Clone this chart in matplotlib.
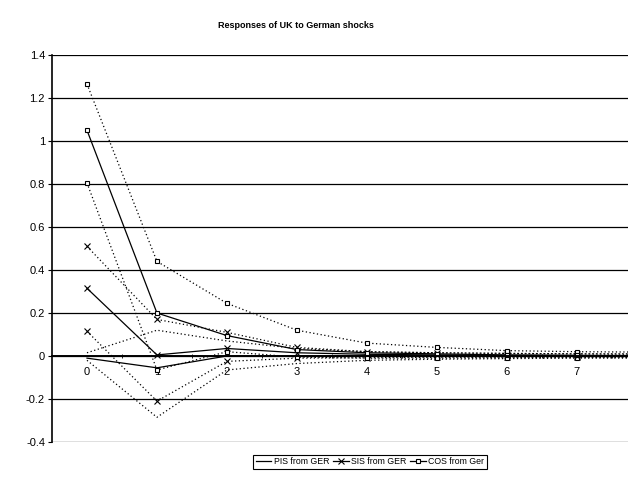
import numpy as np
import matplotlib.pyplot as plt
from matplotlib.ticker import FuncFormatter, MultipleLocator

plt.rcParams['font.family'] = ['Liberation Sans', 'DejaVu Sans']

periods = [0, 1, 2, 3, 4, 5, 6, 7, 8]

# impulse responses with upper / lower bands
pis = [-0.01, -0.055, 0.0, 0.0, 0.0, 0.0, 0.0, -0.002, -0.002]
pis_up = [0.015, 0.12, 0.07, 0.035, 0.02, 0.015, 0.012, 0.01, 0.01]
pis_lo = [-0.02, -0.285, -0.065, -0.035, -0.02, -0.015, -0.012, -0.01, -0.01]

sis = [0.315, 0.005, 0.035, 0.015, 0.008, 0.005, 0.003, 0.002, 0.001]
sis_up = [0.51, 0.17, 0.11, 0.04, 0.02, 0.015, 0.012, 0.01, 0.008]
sis_lo = [0.115, -0.21, -0.025, -0.01, -0.008, -0.006, -0.005, -0.004, -0.004]

cos = [1.05, 0.2, 0.095, 0.03, 0.015, 0.01, 0.005, 0.003, 0.002]
cos_up = [1.265, 0.44, 0.245, 0.12, 0.06, 0.04, 0.025, 0.02, 0.018]
cos_lo = [0.805, -0.065, 0.02, -0.005, -0.01, -0.01, -0.008, -0.007, -0.006]

labels = ['PIS from GER', 'SIS from GER', 'COS from Ger']

fig = plt.figure(figsize=(6.28, 4.83), dpi=100)
ax = fig.add_axes([52/628, 41/483, 1 - 52/628, 387/483])

dot = (0, (1, 2))
lw = 0.9
ms_x, ms_s = 4, 3
# bands
ax.plot(periods, pis_up, color='black', lw=lw, ls=dot)
ax.plot(periods, pis_lo, color='black', lw=lw, ls=dot)
for up, lo, m, ms in [(sis_up, sis_lo, 'x', ms_x), (cos_up, cos_lo, 's', ms_s)]:
    for band in (up, lo):
        ax.plot(periods, band, color='black', lw=lw, ls=dot, marker=m, ms=ms,
                mfc='white', mec='black', mew=0.8)

# central responses
l1, = ax.plot(periods, pis, color='black', lw=lw)
l2, = ax.plot(periods, sis, color='black', lw=lw, marker='x', ms=ms_x, mew=0.8)
l3, = ax.plot(periods, cos, color='black', lw=lw, marker='s', ms=ms_s,
              mfc='white', mec='black', mew=0.8)

ax.set_xlim(-0.5, (628 - 86.7) / 70)
ax.set_ylim(-0.4, 1.4)
ax.yaxis.set_major_locator(MultipleLocator(0.2))
ax.yaxis.set_major_formatter(FuncFormatter(lambda v, p: '%g' % round(v, 1)))
ax.grid(axis='y', color='black', lw=0.9)
ax.set_axisbelow(True)

for s in ('top', 'right'):
    ax.spines[s].set_visible(False)
ax.spines['left'].set_linewidth(1.2)
ax.spines['bottom'].set_position(('data', 0))
ax.spines['bottom'].set_linewidth(1.4)

ax.set_xticks(periods[:8])
ax.set_xticks(np.arange(0.5, 8, 1), minor=True)
ax.tick_params(axis='x', which='major', length=0, pad=8, labelsize=8)
ax.tick_params(axis='x', which='minor', length=3, direction='inout')
ax.tick_params(axis='y', length=3, labelsize=8, pad=2)

fig.text(296/628, 1 - 25/483, 'Responses of UK to German shocks',
         ha='center', va='center', fontsize=6.5, fontweight='bold')

leg = fig.legend([l1, l2, l3], labels, ncol=3, loc='center',
                 bbox_to_anchor=(370/628, 1 - 462/483), fontsize=6.3,
                 handlelength=1.8, handletextpad=0.3, columnspacing=0.4,
                 borderpad=0.3, fancybox=False, edgecolor='black',
                 framealpha=1)
leg.get_frame().set_linewidth(0.8)

fig.savefig('out.png', dpi=100)
